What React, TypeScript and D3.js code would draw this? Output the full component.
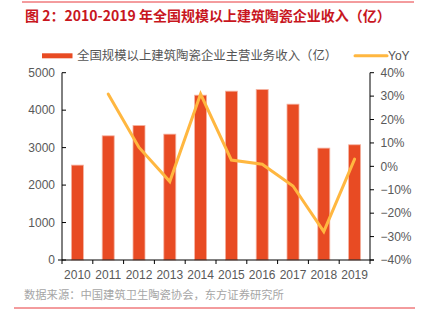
import React from "react";
import * as d3 from "d3";

const years = ["2010", "2011", "2012", "2013", "2014", "2015", "2016", "2017", "2018", "2019"];
const revenue = [2533, 3315, 3591, 3360, 4400, 4507, 4551, 4160, 2987, 3076];
const yoy: (number | null)[] = [null, 30.9, 8.1, -6.5, 30.9, 2.7, 0.9, -8.4, -27.9, 3.1];
const leftTicks = [0, 1000, 2000, 3000, 4000, 5000];
const rightTicks = [-40, -30, -20, -10, 0, 10, 20, 30, 40];

const W = 422, H = 321;
const M = { left: 62, right: 370, top: 72.7, bottom: 260 };
const CJK = "'Noto Sans CJK SC', 'Liberation Sans', sans-serif";
const NUM = "'Liberation Sans', Arial, sans-serif";

export default function App() {
  const x = d3.scaleBand<string>().domain(years).range([M.left, M.right]).paddingInner(0.6).paddingOuter(0.3);
  const yL = d3.scaleLinear().domain([0, 5000]).range([M.bottom, M.top]);
  const yR = d3.scaleLinear().domain([-40, 40]).range([M.bottom, M.top]);
  const band = (M.right - M.left) / years.length;
  const cx = (i: number) => M.left + band * (i + 0.5);
  const bw = 12;
  const pts = yoy.map((v, i) => (v == null ? null : [cx(i), yR(v)] as [number, number]));
  const line = d3.line<[number, number] | null>().defined((d) => d != null).x((d) => d![0]).y((d) => d![1]);
  const fmtPct = (v: number) => (v < 0 ? "\u2212" + Math.abs(v) : String(v)) + "%";

  return (
    <svg width={W} height={H} style={{ position: "absolute", left: 0, top: 0, background: "#fff" }}>
      <line x1={22} x2={414} y1={2} y2={2} stroke="#E8383D" strokeWidth={1} />
      <text x={25} y={20.5} fontFamily={CJK} fontWeight="bold" fontSize={14} fill="#C8161E">
        图 2：2010-2019 年全国规模以上建筑陶瓷企业收入（亿）
      </text>
      {/* legend */}
      <rect x={42} y={53.3} width={30.5} height={5} fill="#E84B23" />
      <text x={77} y={60} fontFamily={CJK} fontSize={12.4} fill="#555">
        全国规模以上建筑陶瓷企业主营业务收入（亿）
      </text>
      <line x1={355} x2={387} y1={55.7} y2={55.7} stroke="#FFB740" strokeWidth={3} strokeLinecap="round" />
      <text x={388} y={60} fontFamily={NUM} fontSize={12} fill="#555">YoY</text>

      {/* bars */}
      {revenue.map((v, i) => (
        <rect key={years[i]} x={cx(i) - bw / 2} y={yL(v)} width={bw} height={M.bottom - yL(v)}
          fill="#E84B23" stroke="#F6B3A2" strokeWidth={0.8} />
      ))}
      {/* line */}
      <path d={line(pts) || ""} fill="none" stroke="#FFB740" strokeWidth={3} strokeLinejoin="miter" strokeLinecap="round" />

      {/* left axis */}
      <line x1={M.left} x2={M.left} y1={M.top} y2={M.bottom} stroke="#000" strokeWidth={1} />
      {leftTicks.map((t) => (
        <g key={t}>
          <line x1={M.left} x2={M.left + 4} y1={yL(t)} y2={yL(t)} stroke="#000" />
          <text x={55} y={yL(t) + 4.3} textAnchor="end" fontFamily={NUM} fontSize={12} fill="#595959">{t}</text>
        </g>
      ))}
      {/* right axis */}
      <line x1={M.right} x2={M.right} y1={M.top} y2={M.bottom} stroke="#000" strokeWidth={1} />
      {rightTicks.map((t) => (
        <g key={t}>
          <line x1={M.right} x2={M.right + 4} y1={yR(t)} y2={yR(t)} stroke="#000" />
          <text x={380.5} y={yR(t) + 4.3} fontFamily={NUM} fontSize={12} fill="#595959">{fmtPct(t)}</text>
        </g>
      ))}
      {/* bottom axis */}
      <line x1={M.left - 4} x2={M.right + 4} y1={M.bottom} y2={M.bottom} stroke="#000" strokeWidth={1} />
      {d3.range(years.length + 1).map((i) => (
        <line key={i} x1={M.left + band * i} x2={M.left + band * i} y1={M.bottom} y2={M.bottom + 4} stroke="#000" />
      ))}
      {years.map((y, i) => (
        <text key={y} x={cx(i)} y={278.5} textAnchor="middle" fontFamily={NUM} fontSize={12} fill="#595959">{y}</text>
      ))}
      <text x={24} y={299} fontFamily={CJK} fontSize={11.3} fill="#A6A6A6">
        数据来源：中国建筑卫生陶瓷协会，东方证券研究所
      </text>
      <line x1={14} x2={415} y1={308} y2={308} stroke="#E8383D" strokeWidth={1} />
    </svg>
  );
}
